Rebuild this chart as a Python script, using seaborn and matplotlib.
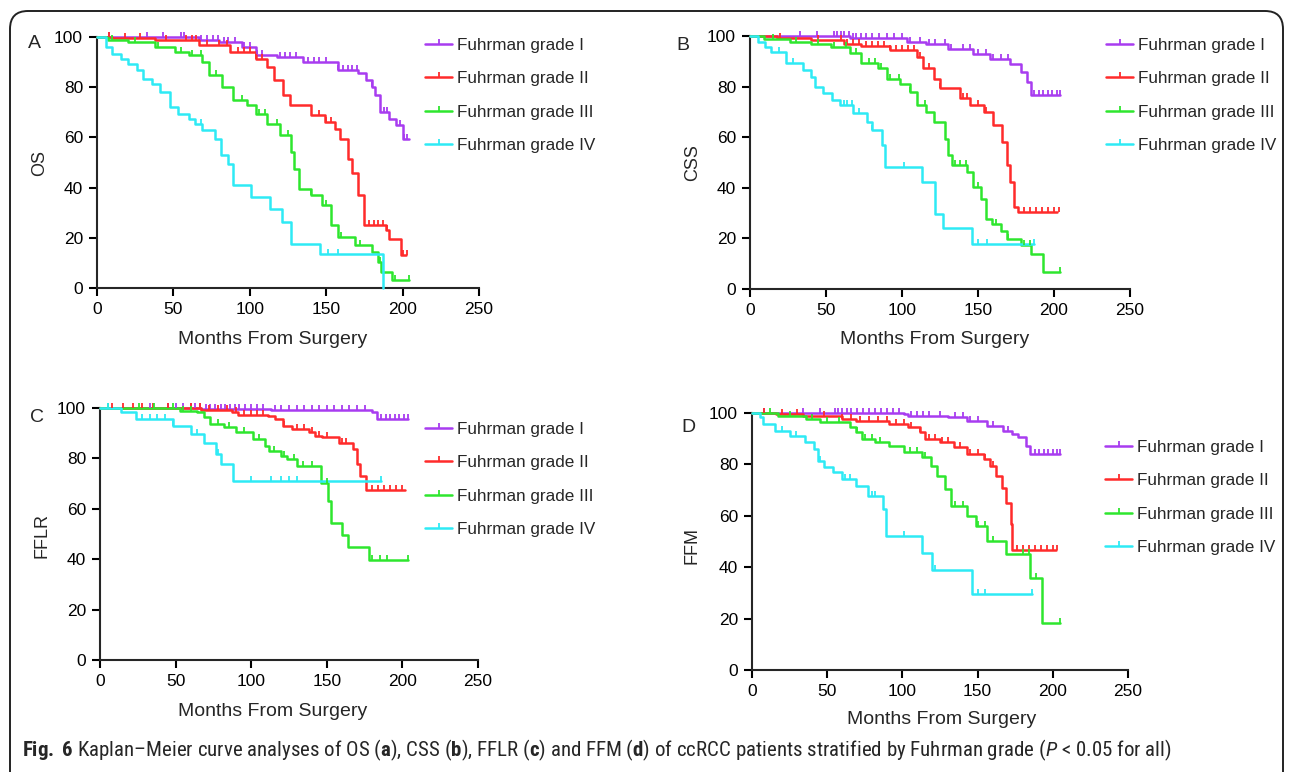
import numpy as np
import pandas as pd
import matplotlib
matplotlib.use('Agg')
import matplotlib.pyplot as plt
import seaborn as sns
from matplotlib import font_manager
from matplotlib.lines import Line2D
from matplotlib.patches import FancyBboxPatch
from matplotlib.transforms import IdentityTransform

# Kaplan-Meier step data (months, % event free)
grades = ['Fuhrman grade I', 'Fuhrman grade II', 'Fuhrman grade III', 'Fuhrman grade IV']
colors = ['#A83CF0', '#FF2B2B', '#2EE62E', '#2EEAF5']

# A - OS
os_t = [
    [0, 67, 80, 95, 104, 118, 135, 158, 171, 176, 180, 182, 185, 191, 196, 200, 204],
    [0, 10, 38, 67, 87, 104, 111, 116, 122, 126, 140, 149, 156, 159, 164, 167, 171, 175, 189, 191, 199, 202],
    [0, 7, 20, 38, 51, 60, 69, 73, 82, 89, 98, 104, 111, 120, 127, 129, 132, 140, 147, 153, 158, 169, 180, 184, 186, 193, 204],
    [0, 6, 10, 16, 20, 26, 30, 36, 41, 48, 53, 60, 64, 69, 77, 81, 86, 89, 101, 113, 121, 127, 146, 187],
]
os_s = [
    [100, 99, 98, 96, 93, 92, 90, 87, 85.5, 83, 80, 77, 70, 67.5, 65, 59.5, 59.5],
    [100, 99.5, 98.7, 96.7, 94, 91.4, 88, 82.7, 76.8, 72.8, 68.8, 66, 63.5, 59.5, 51.5, 46, 37, 25, 23, 19.7, 13, 13],
    [100, 99, 98, 96, 94, 92.7, 90, 84.7, 80, 74.8, 72.8, 69.5, 65.5, 60.8, 54.2, 47.5, 39.6, 36.9, 33, 25, 20.3, 17, 14.3, 10.4, 6.4, 3, 3],
    [100, 96, 93.4, 91.4, 89.4, 86.7, 83.4, 81.4, 78, 72, 69.5, 67.5, 65.5, 62.8, 59.5, 52.8, 49.5, 40.9, 36.3, 31.6, 26.3, 17.7, 13.7, 0],
]
os_cens = [
    [8, 33, 43, 55, 57, 68, 72, 76, 79, 83, 86, 90, 96, 100, 105, 108, 120, 123, 126, 130, 138, 142, 145, 150, 158, 161, 164, 167, 170, 180, 188, 190, 198, 201, 203],
    [8, 18, 28, 45, 58, 62, 65, 72, 80, 85, 92, 96, 100, 104, 108, 145, 150, 153, 178, 181, 184, 187, 190, 200, 203],
    [10, 25, 40, 55, 62, 68, 78, 95, 106, 110, 118, 125, 140, 150, 160, 172, 185, 195, 204],
    [68, 151, 158],
]

# B - CSS
css_t = [
    [0, 66, 103, 116, 130, 147, 158, 171, 178, 182, 185, 204],
    [0, 18, 40, 62, 73, 92, 110, 114, 121, 125, 138, 145, 154, 160, 166, 169, 171, 174, 176, 202],
    [0, 9, 26, 40, 53, 66, 73, 84, 90, 99, 105, 110, 116, 121, 128, 130, 133, 143, 147, 152, 155, 159, 165, 169, 178, 185, 193, 204],
    [0, 5, 10, 14, 24, 35, 40, 43, 48, 54, 59, 68, 77, 80, 87, 89, 113, 122, 127, 146, 187],
]
css_s = [
    [100, 99.3, 97.8, 96.7, 95, 93, 90.8, 89, 85.9, 81.9, 76.6, 76.6],
    [100, 99.3, 98.4, 97, 96.2, 94.5, 91.8, 87.2, 83.2, 79.3, 75.3, 72.7, 70, 64.7, 58, 48.9, 42.3, 32.4, 30.4, 30.4],
    [100, 98.8, 97.8, 97, 95.8, 93.1, 89.2, 87.2, 83.2, 81.2, 78, 72.7, 70, 66, 59.4, 52.8, 48.9, 46.2, 40.3, 35.6, 27.7, 25.8, 23, 19.9, 17.2, 13.9, 6.6, 6.6],
    [100, 97.8, 95.8, 93.8, 89.2, 86.5, 83.9, 80, 77.3, 74.6, 72.7, 69.4, 66, 62.7, 56.8, 48.2, 42.3, 29.7, 24, 17.8, 17.8],
]
css_cens = [
    [33, 44, 55, 57, 60, 62, 65, 68, 70, 73, 76, 80, 85, 90, 95, 100, 105, 112, 118, 122, 128, 132, 140, 145, 150, 155, 160, 165, 170, 187, 190, 193, 196, 199, 202, 204],
    [20, 45, 60, 64, 68, 72, 76, 80, 84, 88, 92, 96, 100, 104, 108, 112, 118, 125, 140, 143, 150, 155, 180, 184, 188, 192, 196, 200, 203],
    [15, 30, 45, 55, 63, 70, 78, 82, 86, 92, 98, 105, 115, 135, 138, 142, 150, 162, 170, 180, 184, 204],
    [19, 28, 62, 64, 67, 72, 80, 101, 150, 156, 187],
]

# C - FFLR
fflr_t = [
    [0, 67, 113, 180, 183, 204],
    [0, 67, 87, 91, 111, 116, 121, 127, 138, 142, 147, 158, 167, 170, 172, 176, 202],
    [0, 53, 64, 69, 73, 82, 90, 101, 109, 112, 120, 124, 130, 146, 151, 153, 160, 164, 178, 204],
    [0, 14, 24, 48, 60, 69, 77, 80, 88, 186],
]
fflr_s = [
    [100, 99.6, 99.2, 98.3, 95.6, 95.6],
    [100, 99.2, 98.3, 97.3, 96.9, 95.6, 92.9, 91.6, 90.3, 88.9, 88.3, 86.3, 83.6, 77.6, 73, 67.6, 67.6],
    [100, 98.9, 98.3, 96.3, 93.6, 92.3, 90.3, 87.6, 85, 83, 81, 79.6, 77, 70.3, 63, 54.3, 49.7, 45, 39.7, 39.7],
    [100, 98.3, 95.6, 92.9, 89.6, 86.3, 81.6, 77.6, 71, 71],
]
fflr_cens = [
    [33, 45, 50, 55, 60, 63, 66, 70, 73, 76, 80, 83, 86, 89, 92, 96, 100, 104, 108, 116, 120, 125, 130, 135, 140, 145, 150, 155, 160, 165, 170, 175, 186, 189, 192, 195, 198, 201, 204],
    [8, 15, 22, 28, 35, 45, 60, 66, 72, 78, 84, 90, 95, 100, 104, 108, 122, 130, 135, 140, 145, 150, 160, 163, 180, 184, 188, 192, 196, 200],
    [5, 26, 36, 48, 55, 60, 78, 85, 95, 105, 115, 122, 128, 134, 140, 150, 180, 185, 190, 204],
    [5, 28, 33, 38, 43, 48, 64, 78, 100, 113, 120, 125, 130, 186],
]

# D - FFM
ffm_t = [
    [0, 101, 104, 130, 143, 156, 167, 173, 177, 182, 185, 205],
    [0, 16, 34, 60, 69, 91, 104, 112, 115, 125, 134, 143, 154, 158, 162, 166, 169, 172, 173, 202],
    [0, 17, 36, 45, 65, 69, 73, 82, 91, 101, 113, 119, 123, 128, 132, 143, 149, 156, 169, 185, 193, 205],
    [0, 5, 7, 15, 25, 35, 41, 44, 48, 54, 60, 69, 77, 87, 89, 113, 120, 146, 186],
]
ffm_s = [
    [100, 99.6, 99, 98.3, 97, 95, 93.1, 91.8, 90.5, 87.3, 84.1, 84.1],
    [100, 99.5, 98.7, 97.7, 97, 95.7, 94.4, 92.5, 89.9, 88.6, 86.6, 84, 82.1, 79.5, 75.6, 71, 65.1, 56.7, 46.5, 46.5],
    [100, 99, 97.7, 96.4, 94.4, 92.5, 89.9, 88.6, 87.3, 84.7, 82.7, 79.5, 75.6, 70.4, 63.8, 59.9, 56, 50.2, 45, 35.9, 18.3, 18.3],
    [100, 98.3, 95.7, 93.1, 91.2, 88.6, 86, 81.4, 78.8, 76.9, 74.3, 71.7, 67.8, 62.6, 52.2, 45.6, 39.1, 29.4, 29.4],
]
ffm_cens = [
    [8, 34, 45, 55, 57, 60, 63, 66, 70, 74, 78, 82, 86, 90, 94, 98, 106, 110, 114, 118, 125, 135, 140, 145, 150, 160, 170, 188, 191, 194, 197, 200, 203, 205],
    [8, 20, 30, 48, 60, 66, 72, 78, 84, 90, 96, 101, 106, 112, 118, 122, 126, 130, 138, 145, 150, 155, 160, 176, 180, 184, 188, 192, 196, 200, 203],
    [12, 25, 40, 50, 58, 70, 75, 80, 85, 105, 110, 115, 135, 140, 150, 155, 160, 180, 184, 189, 205],
    [20, 29, 45, 62, 65, 80, 82, 101, 122, 150, 155, 186],
]

panel_letters = ['A', 'B', 'C', 'D']
y_labels = ['OS', 'CSS', 'FFLR', 'FFM']
x_label = 'Months From Surgery'
x_ticks = [0, 50, 100, 150, 200, 250]
y_ticks = [0, 20, 40, 60, 80, 100]

W, H = 1290, 772

sns.set_style('ticks')
plt.rcParams['font.family'] = ['Liberation Sans', 'DejaVu Sans']

available = {f.name for f in font_manager.fontManager.ttflist}
cap_font = 'Liberation Sans'
for name in ['Liberation Sans Narrow', 'Roboto Condensed', 'Open Sans Condensed', 'DejaVu Sans Condensed']:
    if name in available:
        cap_font = name
        break
plt.rcParams['mathtext.fontset'] = 'custom'
plt.rcParams['mathtext.rm'] = cap_font
plt.rcParams['mathtext.it'] = cap_font + ':italic'
plt.rcParams['mathtext.bf'] = cap_font + ':bold'

fig = plt.figure(figsize=(W / 100, H / 100), dpi=100)


def px(x, y):
    return x / W, 1 - y / H


# up-pointing censor tick
tick = [(0, 0), (0, 1)]

# axes boxes in pixels: left, top(=100), right(=250), bottom(=0)
boxes = [(97, 37, 479, 288), (750, 36, 1130, 289), (100, 408, 478, 660), (752, 413, 1128, 670)]
legend_pos = [(425, 38), (1106, 38), (425, 422), (1105, 440)]
letter_pos = [(34, 43), (683, 45), (37, 417), (688, 427)]
ylabel_pos = [(40, 163), (693, 163), (42, 535), (692, 545)]
xlabel_pos = [(273, 340), (935, 340), (273, 712), (942, 720)]

panels = [(os_t, os_s, os_cens), (css_t, css_s, css_cens),
          (fflr_t, fflr_s, fflr_cens), (ffm_t, ffm_s, ffm_cens)]

for k, (times, surv, cens) in enumerate(panels):
    l, t, r, b = boxes[k]
    ax = fig.add_axes([l / W, 1 - b / H, (r - l) / W, (b - t) / H])

    frames = []
    for g, tt, ss in zip(grades, times, surv):
        frames.append(pd.DataFrame({'month': tt, 'surv': ss, 'grade': g}))
    df = pd.concat(frames, ignore_index=True)

    sns.lineplot(data=df, x='month', y='surv', hue='grade', palette=colors,
                 estimator=None, drawstyle='steps-post', legend=False,
                 lw=1.8, ax=ax, clip_on=False, zorder=3)

    for i, g in enumerate(grades):
        tt = np.array(times[i])
        ss = np.array(surv[i])
        c = np.array(cens[i])
        idx = np.searchsorted(tt, c, side='right') - 1
        ax.plot(c, ss[idx], ls='none', marker=tick, ms=7, mec=colors[i],
                mew=1.3, clip_on=False, zorder=3)

    ax.set_xlim(0, 250)
    ax.set_ylim(0, 100)
    ax.set_xticks(x_ticks)
    ax.set_yticks(y_ticks)
    ax.set_xlabel('')
    ax.set_ylabel('')
    sns.despine(ax=ax)
    for sp in ['left', 'bottom']:
        ax.spines[sp].set_linewidth(1.5)
    ax.tick_params(width=1.5, length=6, labelsize=12.5, pad=4, colors='black')

    handles = [Line2D([], [], color=c, lw=1.8, marker=tick, ms=7, mec=c, mew=1.3)
               for c in colors]
    lx, ly = legend_pos[k]
    fig.legend(handles, grades, loc='upper left', bbox_to_anchor=px(lx, ly),
               frameon=False, fontsize=12.3, handlelength=1.6, handletextpad=0.3,
               labelspacing=1.08, borderpad=0, borderaxespad=0, numpoints=1)

    fig.text(*px(*letter_pos[k]), panel_letters[k], fontsize=14, ha='center', va='center')
    fig.text(*px(*ylabel_pos[k]), y_labels[k], fontsize=13, rotation=90, ha='center', va='center')
    fig.text(*px(*xlabel_pos[k]), x_label, fontsize=14, ha='center', va='center')

# rounded frame around the figure
frame = FancyBboxPatch((10, -40), 1273, H - 11 + 40, boxstyle='round,pad=0,rounding_size=18',
                       fc='none', ec='#222222', lw=1.4, transform=IdentityTransform())
fig.add_artist(frame)

caption = (r'$\mathbf{Fig.\ 6}$ Kaplan–Meier curve analyses of OS ($\mathbf{a}$), CSS ($\mathbf{b}$), '
           r'FFLR ($\mathbf{c}$) and FFM ($\mathbf{d}$) of ccRCC patients stratified by Fuhrman grade '
           r'($\mathit{P}$ < 0.05 for all)')
fig.text(*px(22, 750), caption, fontsize=15, ha='left', va='center', family=cap_font)

fig.savefig('out.png', dpi=100)
